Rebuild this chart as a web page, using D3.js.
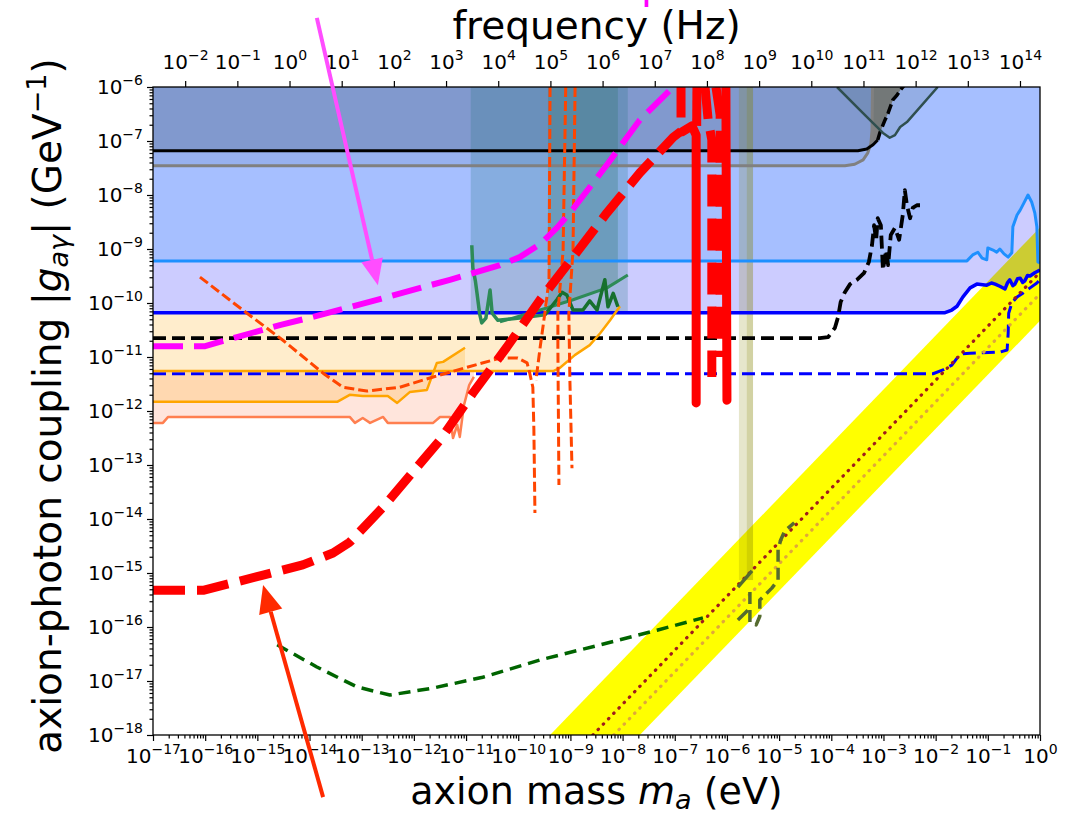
<!DOCTYPE html>
<html>
<head>
<meta charset="utf-8">
<script src="https://cdn.jsdelivr.net/npm/d3@7"></script>
<style>
  body { margin: 0; background: #fff; }
  svg { display: block; }
  text { font-family: "DejaVu Sans", sans-serif; }
</style>
</head>
<body>
<svg id="chart" width="1072" height="816"></svg>
<script>
// every point is [log10 m_a (eV), log10 |g| (GeV^-1)]
const massTicks = d3.range(-17, 1);
const couplingTicks = d3.range(-18, -5);
const freqTicks = d3.range(-2, 15);
const hPlanck = 4.135667e-15; // eV s, mass -> frequency

// filled limits (bounded from the line up to the top)
const greyLine = [[-17,-7.46],[-3.74,-7.46],[-3.55,-7.43],[-3.39,-7.35],[-3.30,-7.22],[-3.24,-7.04],[-3.22,-6.80],[-3.21,-5.98]];
const blackLine = [[-17,-7.18],[-3.49,-7.18],[-3.32,-7.15],[-3.20,-7.07],[-3.11,-6.98]];
const blackTop = [[-3.11,-6.98],[-3.07,-6.85],[-2.97,-6.61],[-2.91,-6.48],[-2.82,-6.24],[-2.74,-6.15],[-2.68,-6.06],[-2.61,-5.98]];
const greyPatch = [[-3.21,-5.98],[-3.21,-6.80],[-3.22,-7.04],[-3.11,-6.98],[-3.07,-6.85],[-2.97,-6.61],[-2.91,-6.48],[-2.82,-6.24],[-2.74,-6.15],[-2.68,-6.06],[-2.61,-5.98]];
const vLine = [[-3.89,-6.0],[-3.45,-6.43],[-3.01,-6.85],[-2.88,-6.94],[-2.78,-6.89],[-2.68,-6.74],[-2.55,-6.65],[-1.96,-6.0]];
const cyanLine = [[-17,-9.22],[-1.40,-9.22],[-1.29,-9.11],[-1.19,-9.06],[-1.11,-9.17],[-1.02,-9.20],[-1.00,-8.98],[-0.90,-9.02],[-0.83,-9.06],[-0.77,-9.00],[-0.69,-9.09],[-0.61,-9.15],[-0.54,-9.07],[-0.52,-8.59],[-0.44,-8.37],[-0.38,-8.28],[-0.31,-8.15],[-0.23,-8.00],[-0.16,-8.13],[-0.10,-8.33],[-0.06,-8.59],[-0.04,-9.24],[0,-9.26]];
const blueLine = [[-17,-10.18],[-1.82,-10.18],[-1.69,-10.13],[-1.59,-10.06],[-1.48,-9.89],[-1.34,-9.72],[-1.21,-9.65],[-1.02,-9.67],[-0.93,-9.63],[-0.86,-9.65],[-0.77,-9.69],[-0.67,-9.74],[-0.62,-9.62],[-0.58,-9.57],[-0.52,-9.68],[-0.48,-9.65],[-0.43,-9.55],[-0.38,-9.54],[-0.33,-9.62],[-0.29,-9.59],[-0.24,-9.49],[-0.19,-9.50],[-0.10,-9.44],[0,-9.39]];

// open lines
const blackDashed = [[-17,-10.65],[-4.22,-10.65],[-4.06,-10.63],[-3.93,-10.46],[-3.87,-10.26],[-3.82,-9.98],[-3.74,-9.80],[-3.64,-9.65],[-3.51,-9.57],[-3.37,-9.44],[-3.28,-9.24],[-3.22,-8.93],[-3.18,-8.56],[-3.14,-8.83],[-3.11,-8.43],[-3.05,-8.56],[-3.01,-9.39],[-2.95,-9.02],[-2.91,-9.30],[-2.86,-8.74],[-2.78,-8.61],[-2.70,-8.83],[-2.63,-8.37],[-2.59,-7.91],[-2.55,-8.19],[-2.49,-8.43],[-2.44,-8.24],[-2.36,-8.19],[-2.30,-8.19]];
const blueDashed = [[-17,-11.31],[-2.05,-11.31],[-1.86,-11.24],[-1.69,-11.15],[-1.59,-11.02],[-1.50,-10.94],[-1.34,-10.93],[-0.77,-10.91],[-0.63,-10.87],[-0.61,-10.56],[-0.60,-10.19],[-0.54,-10.00],[-0.44,-9.89],[-0.33,-9.82],[-0.19,-9.72],[-0.06,-9.63],[0,-9.57]];
const orangeHigh = [[-17,-11.26],[-9.33,-11.26],[-9.20,-11.20],[-8.91,-10.96],[-8.63,-10.78],[-8.43,-10.56],[-8.24,-10.32],[-8.05,-10.06]];
const orangeLow = [[-17,-11.83],[-13.47,-11.83],[-13.23,-11.70],[-12.98,-11.72],[-12.50,-11.72],[-12.32,-11.85],[-12.08,-11.65],[-11.75,-11.61],[-11.56,-11.11],[-11.44,-11.09],[-11.02,-10.83]];
const coralLine = [[-17,-12.22],[-16.81,-12.22],[-16.71,-12.11],[-13.23,-12.11],[-13.13,-12.22],[-12.98,-12.13],[-12.84,-12.22],[-12.59,-12.11],[-12.50,-12.22],[-11.63,-12.22],[-11.50,-12.11],[-11.31,-12.11],[-11.25,-12.50],[-11.17,-12.26],[-11.12,-12.48],[-11.04,-11.89],[-10.94,-11.52],[-10.85,-11.37]];
const greenWiggleA = [[-10.89,-8.93],[-10.87,-9.35],[-10.82,-9.60],[-10.79,-9.82],[-10.74,-10.20],[-10.70,-10.37],[-10.62,-10.28],[-10.54,-9.76],[-10.50,-10.19],[-10.39,-10.32],[-9.97,-10.28],[-9.49,-10.22]];
const greenWiggleB = [[-9.49,-10.22],[-9.26,-9.94],[-9.16,-9.80],[-9.07,-9.85],[-8.95,-10.13],[-8.76,-10.13],[-8.63,-9.96],[-8.49,-10.13],[-8.34,-9.57],[-8.28,-10.07],[-8.18,-9.82],[-8.09,-10.07]];
const greenSmooth = [[-10.35,-10.35],[-9.58,-10.13],[-8.95,-9.94],[-8.30,-9.72],[-7.90,-9.48]];
const orangeRedCurve = [[-16.10,-9.52],[-15.28,-10.13],[-14.51,-10.69],[-13.74,-11.30],[-13.36,-11.56],[-12.90,-11.63],[-12.27,-11.56],[-11.63,-11.37],[-10.98,-11.19],[-10.35,-11.02],[-10.01,-11.02],[-9.83,-11.11],[-9.78,-11.30],[-9.72,-11.56],[-9.70,-12.35],[-9.68,-13.89]];
const orangeRedV1 = [[-9.39,-6],[-9.41,-9.57],[-9.49,-10.19],[-9.58,-10.82],[-9.66,-11.43]];
const orangeRedV2 = [[-9.09,-6],[-9.14,-9.02],[-9.24,-10.19],[-9.24,-10.82],[-9.22,-13.37]];
const orangeRedV3 = [[-8.91,-6],[-8.95,-9.02],[-9.03,-10.19],[-9.01,-11.43],[-8.97,-13.06]];
const greenDashed = [[-14.62,-16.33],[-13.86,-16.74],[-13.09,-17.11],[-12.46,-17.26],[-11.63,-17.13],[-10.68,-16.93],[-9.58,-16.61],[-8.43,-16.33],[-7.34,-16.06],[-6.46,-15.83]];
const oliveDashedA = [[-5.79,-15.26],[-5.52,-14.96]];
const oliveDashedB = [[-5.56,-15.35],[-5.56,-15.91],[-5.44,-15.96],[-5.37,-15.80],[-5.37,-15.50],[-5.14,-15.28],[-5.02,-15.13],[-5.02,-14.57],[-4.97,-14.39],[-4.89,-14.22],[-4.71,-14.07]];
const oliveDashedC = [[-5.79,-15.87],[-5.60,-15.69]];
const magentaDashed = [[-17,-10.80],[-16.0,-10.80],[-15.39,-10.63],[-14.57,-10.41],[-13.86,-10.24],[-12.59,-9.91],[-11.31,-9.57],[-10.35,-9.30],[-9.97,-9.15],[-9.58,-8.91],[-9.26,-8.61],[-8.95,-8.26],[-8.30,-7.44],[-7.67,-6.61],[-7.03,-6.0]];
const redDashed = [[-17,-15.32],[-16.04,-15.32],[-14.89,-15.04],[-14.13,-14.85],[-13.55,-14.63],[-13.23,-14.43],[-12.59,-13.78],[-11.94,-13.04],[-11.5,-12.54],[-10.87,-11.67],[-10.22,-10.82],[-9.58,-9.94],[-8.95,-9.15],[-8.30,-8.33],[-7.67,-7.59],[-7.03,-6.93],[-6.88,-6.82],[-6.88,-6.0]];
const redSolidA = [[-6.86,-6.83],[-6.67,-6.72],[-6.59,-6.89],[-6.59,-11.85]];
const redSolidA2 = [[-6.575,-6.0],[-6.58,-6.72]];
const redDashedB = [[-6.42,-6.0],[-6.36,-6.61],[-6.29,-6.98],[-6.29,-11.37]];
const redDashedC = [[-6.21,-6.0],[-6.13,-6.52],[-6.13,-11.0]];
const redSolidD = [[-6.02,-6.0],[-6.0,-11.80]];

// QCD axion band and model lines
const qcdBand = [[-9.39,-18],[0,-8.6],[0,-10.33],[-7.67,-18]];
const qcdUpper = [[-8.57,-18],[0,-9.43]];
const qcdLower = [[-8.17,-18],[0,-9.83]];

// vertical bands: [mass from, mass to], lower edge
const tealBand = [-10.91, -7.90];
const tealBandFloor = -10.18;
const tealNarrowFloor = [[-9.43,-10.08],[-8.95,-9.94],[-8.30,-9.72],[-8.09,-9.63]];
const oliveBand = [-5.77, -5.50];
const oliveBandDark = [-5.62, -5.50];
const oliveFloor = -15.13;

// annotation arrows: [start, tip]
const magentaArrow = [[-13.86,-4.72],[-12.69,-9.67]];
const redArrow = [[-13.74,-19.15],[-14.89,-15.22]];

const svg = d3.select("#chart");
const pL = 153, pR = 1040, pT = 87, pB = 735;

const x = d3.scaleLog().domain([1e-17, 1]).range([pL, pR]);
const y = d3.scaleLog().domain([1e-18, 1e-6]).range([pB, pT]);
const xf = d3.scaleLog().domain([1e-17 / hPlanck, 1 / hPlanck]).range([pL, pR]);

const px = d => x(Math.pow(10, d[0]));
const py = d => y(Math.pow(10, d[1]));
const line = d3.line().x(px).y(py);
const areaAbove = d3.area().x(px).y0(py).y1(pT);
const areaTo = level => d3.area().x(px).y0(py).y1(y(Math.pow(10, level)));
const poly = pts => line(pts) + "Z";

svg.append("defs").append("clipPath").attr("id", "plot")
  .append("rect").attr("x", pL).attr("y", pT)
  .attr("width", pR - pL).attr("height", pB - pT);

const g = svg.append("g").attr("clip-path", "url(#plot)");

// QCD band first so the blue limits tint it
g.append("path").attr("d", poly(qcdBand)).attr("fill", "#ffff00");

// lower astrophysical fills
g.append("path").attr("d", areaTo(orangeHigh[0][1])(coralLine)).attr("fill", "rgba(255,127,80,0.2)");
g.append("path").attr("d", areaTo(orangeHigh[0][1])(orangeLow)).attr("fill", "rgba(255,165,0,0.2)");
g.append("path").attr("d", areaTo(blueLine[0][1])(orangeHigh)).attr("fill", "rgba(255,165,0,0.2)");

// upper limits
g.append("path").attr("d", areaAbove(blueLine)).attr("fill", "rgba(0,0,255,0.2)");
g.append("path").attr("d", areaAbove(cyanLine)).attr("fill", "rgba(30,144,255,0.22)");
g.append("path").attr("d", areaAbove(greyLine)).attr("fill", "rgba(70,100,150,0.15)");
g.append("path").attr("d", areaAbove(blackLine.concat(blackTop))).attr("fill", "rgba(20,30,40,0.16)");
g.append("path").attr("d", poly(greyPatch)).attr("fill", "#7f7f7f");
g.append("path").attr("d", poly(vLine)).attr("fill", "rgba(47,79,79,0.15)");

// vertical bands on top of the limits
function band(range, floor, fill) {
  g.append("rect")
    .attr("x", x(Math.pow(10, range[0])))
    .attr("width", x(Math.pow(10, range[1])) - x(Math.pow(10, range[0])))
    .attr("y", pT)
    .attr("height", y(Math.pow(10, floor)) - pT)
    .attr("fill", fill);
}
band(tealBand, tealBandFloor, "rgba(40,120,130,0.25)");
g.append("path").attr("d", areaAbove(tealNarrowFloor)).attr("fill", "rgba(50,120,110,0.3)");
band(oliveBand, oliveFloor, "rgba(128,128,0,0.2)");
band(oliveBandDark, oliveFloor, "rgba(128,128,0,0.2)");

// line helper
function draw(data, color, width, dash, cap) {
  g.append("path")
    .attr("d", line(data))
    .attr("fill", "none")
    .attr("stroke", color)
    .attr("stroke-width", width)
    .attr("stroke-dasharray", dash || null)
    .attr("stroke-linecap", cap || "butt")
    .attr("stroke-linejoin", "round");
}

draw(greyLine, "#808080", 3);
draw(blackLine, "#000", 3);
draw(blackTop, "#000", 3.5, "10,4");
draw(cyanLine, "#1e90ff", 3);
draw(blueLine, "#0000ff", 3.5);
draw(vLine, "#2f4f4f", 2.5);
draw(blackDashed, "#000", 3.8, "13,6");
draw(blueDashed, "#0000ff", 3, "13,6");
draw(orangeLow, "#ffa500", 2.5);
draw(orangeHigh, "#ffa500", 2.5);
draw(coralLine, "#ff7f50", 2.5);
draw(greenSmooth, "#2e8b57", 3);
draw(greenWiggleA, "#2e8b57", 3.5);
draw(greenWiggleB, "#17702e", 3.5);
draw(qcdUpper, "#a01c1c", 3.2, "0.5,7", "round");
draw(qcdLower, "#e0a83a", 3.2, "0.5,7", "round");
draw(greenDashed, "#006400", 3.5, "12,7");
draw(oliveDashedA, "#556b2f", 3.5);
draw(oliveDashedB, "#556b2f", 3.5, "12,6");
draw(oliveDashedC, "#556b2f", 3.5);
[orangeRedCurve, orangeRedV1, orangeRedV2, orangeRedV3].forEach(d => draw(d, "#ff4500", 3, "10,4"));
draw(magentaDashed, "#ff00ff", 6, "30,11");
draw(redDashed, "#ff0000", 9, "32,12");
draw(redSolidA, "#ff0000", 9, null, "round");
draw(redSolidA2, "#ff0000", 9);
draw(redDashedB, "#ff0000", 9, "32,12");
draw(redDashedC, "#ff0000", 9, "32,12");
draw(redSolidD, "#ff0000", 9, null, "round");

// frame
svg.append("rect")
  .attr("x", pL).attr("y", pT)
  .attr("width", pR - pL).attr("height", pB - pT)
  .attr("fill", "none").attr("stroke", "#000").attr("stroke-width", 1.3);

// axes with 10^n labels
const minus = k => String(k).replace("-", "\u2212");
function powerLabels(axisG) {
  axisG.selectAll(".tick text").each(function(d) {
    const t = d3.select(this).text(null);
    t.append("tspan").text("10");
    t.append("tspan").attr("dy", -9).attr("font-size", 14).text(minus(Math.round(Math.log10(d))));
  });
}
function minorValues(lo, hi) {
  const v = [];
  for (let k = lo; k < hi; k++) for (let m = 2; m <= 9; m++) v.push(m * Math.pow(10, k));
  return v;
}
function styleAxis(axisG) {
  axisG.select(".domain").remove();
  axisG.attr("font-size", 20).attr("font-family", "DejaVu Sans");
  axisG.selectAll(".tick line").attr("stroke-width", 1.2);
}

const xAxis = svg.append("g").attr("transform", `translate(0,${pB})`)
  .call(d3.axisBottom(x).tickValues(massTicks.map(k => Math.pow(10, k))).tickSize(6).tickPadding(8));
styleAxis(xAxis); powerLabels(xAxis);
const xMinor = svg.append("g").attr("transform", `translate(0,${pB})`)
  .call(d3.axisBottom(x).tickValues(minorValues(-17, 0)).tickSize(3.5).tickFormat(""));
styleAxis(xMinor);

const yAxis = svg.append("g").attr("transform", `translate(${pL},0)`)
  .call(d3.axisLeft(y).tickValues(couplingTicks.map(k => Math.pow(10, k))).tickSize(6).tickPadding(4));
styleAxis(yAxis); powerLabels(yAxis);
const yMinor = svg.append("g").attr("transform", `translate(${pL},0)`)
  .call(d3.axisLeft(y).tickValues(minorValues(-18, -6)).tickSize(3.5).tickFormat(""));
styleAxis(yMinor);

const fAxis = svg.append("g").attr("transform", `translate(0,${pT})`)
  .call(d3.axisTop(xf).tickValues(freqTicks.map(k => Math.pow(10, k))).tickSize(6).tickPadding(12));
styleAxis(fAxis); powerLabels(fAxis);

// axis titles
const xTitle = svg.append("text").attr("x", (pL + pR) / 2).attr("y", 804)
  .attr("text-anchor", "middle").attr("font-size", 38);
xTitle.append("tspan").text("axion mass ");
xTitle.append("tspan").attr("font-style", "italic").text("m");
xTitle.append("tspan").attr("font-style", "italic").attr("font-size", 27).attr("dy", 5).text("a");
xTitle.append("tspan").attr("dy", -5).text(" (eV)");

svg.append("text").attr("x", (pL + pR) / 2).attr("y", 39)
  .attr("text-anchor", "middle").attr("font-size", 39).text("frequency (Hz)");

const yTitle = svg.append("text")
  .attr("transform", `translate(61,${(pT + pB) / 2 - 5}) rotate(-90)`)
  .attr("text-anchor", "middle").attr("font-size", 39);
yTitle.append("tspan").text("axion-photon coupling |");
yTitle.append("tspan").attr("font-style", "italic").text("g");
yTitle.append("tspan").attr("font-style", "italic").attr("font-size", 27).attr("dy", 7).text("a\u03b3");
yTitle.append("tspan").attr("dy", -7).text("| (GeV");
yTitle.append("tspan").attr("font-size", 27).attr("dy", -15).text("\u22121");
yTitle.append("tspan").attr("dy", 15).text(")");

// annotation arrows
function arrow(a, color, headLen, headHalf) {
  const s = [px(a[0]), py(a[0])], t = [px(a[1]), py(a[1])];
  const len = Math.hypot(t[0] - s[0], t[1] - s[1]);
  const ux = (t[0] - s[0]) / len, uy = (t[1] - s[1]) / len;
  const b = [t[0] - ux * headLen, t[1] - uy * headLen];
  svg.append("line").attr("x1", s[0]).attr("y1", s[1]).attr("x2", b[0]).attr("y2", b[1])
    .attr("stroke", color).attr("stroke-width", 4);
  svg.append("path")
    .attr("d", `M${t[0]},${t[1]}L${b[0] - uy * headHalf},${b[1] + ux * headHalf}L${b[0] + uy * headHalf},${b[1] - ux * headHalf}Z`)
    .attr("fill", color);
}
arrow(magentaArrow, "#ff4dff", 26, 11);
arrow(redArrow, "#ff2a00", 28, 12);

// cut-off magenta annotation at the very top
svg.append("text").attr("x", 641).attr("y", -2)
  .attr("font-family", "Liberation Serif, serif").attr("font-size", 40)
  .attr("fill", "#ff00ff").text("p");
</script>
</body>
</html>
